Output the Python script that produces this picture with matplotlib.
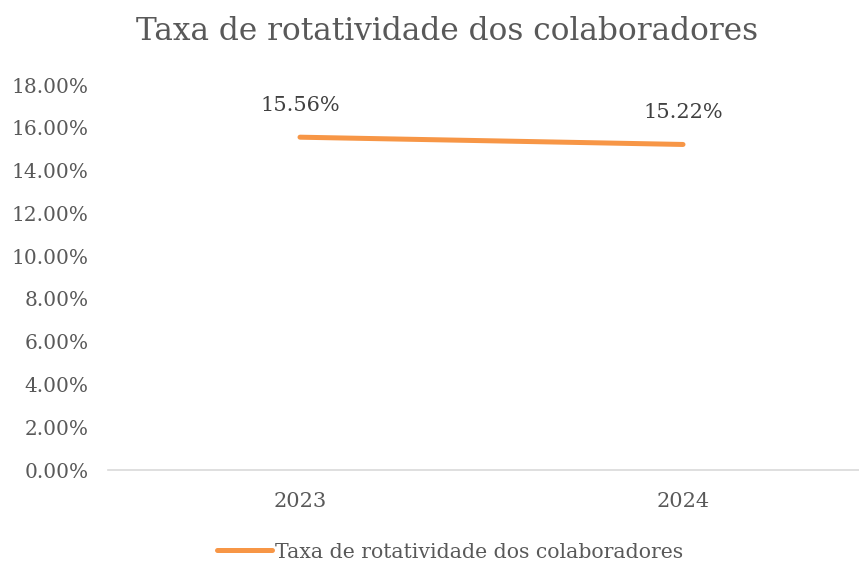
import matplotlib
matplotlib.use("Agg")
import matplotlib.pyplot as plt

# data
years = ["2023", "2024"]
rates = [0.1556, 0.1522]
series_name = "Taxa de rotatividade dos colaboradores"
yticks = [0.00, 0.02, 0.04, 0.06, 0.08, 0.10, 0.12, 0.14, 0.16, 0.18]

txt = "#595959"
orange = "#F79646"
plt.rcParams["font.family"] = ["DejaVu Serif"]

fig = plt.figure(figsize=(8.59, 5.63), dpi=100)
ax = fig.add_axes([108/859, 93/563, 751/859, 385/563])

x = list(range(len(years)))
ax.plot(x, rates, color=orange, lw=3.6, solid_capstyle="round", label=series_name)

# data labels
for xi, v in zip(x, rates):
    ax.annotate(f"{v*100:.2f}%", (xi, v), xytext=(0, 16), textcoords="offset points",
                ha="center", va="bottom", fontsize=15, color="#404040")

ax.set_xlim((108-300)/383, (859-300)/383)
ax.set_ylim(0, 0.18)
ax.set_xticks(x)
ax.set_xticklabels(years)
ax.set_yticks(yticks)
ax.set_yticklabels([f"{t*100:.2f}%" for t in yticks])
ax.tick_params(length=0, labelsize=14.5, colors=txt)
ax.tick_params(axis="x", labelsize=15, pad=16)
ax.tick_params(axis="y", pad=14)
for s in ["top", "right", "left"]:
    ax.spines[s].set_visible(False)
ax.spines["bottom"].set_color("#D9D9D9")
ax.spines["bottom"].set_linewidth(1.2)

fig.text(447/859, 1 - 31/563, series_name, ha="center", va="center", fontsize=22.5, color=txt)

fig.legend(loc="center", bbox_to_anchor=(450/859, 1 - 552/563), frameon=False,
           fontsize=14.7, labelcolor=txt, handlelength=2.7, handletextpad=0.1)

fig.savefig("out.png", dpi=100)
